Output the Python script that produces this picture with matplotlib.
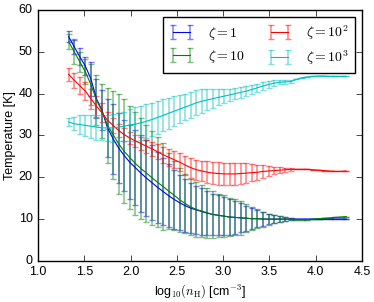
import matplotlib
matplotlib.use('Agg')
import matplotlib.pyplot as plt

plt.style.use('classic')
plt.rcParams['font.family'] = ['Liberation Sans', 'DejaVu Sans']
plt.rcParams['mathtext.fontset'] = 'cm'

### data: log10(nH) bins and mean temperature / spread per zeta
log_nh = [1.33, 1.39, 1.45, 1.51, 1.57, 1.63, 1.69, 1.75, 1.81, 1.87,
          1.93, 1.99, 2.05, 2.11, 2.17, 2.23, 2.29, 2.35, 2.41, 2.47,
          2.53, 2.59, 2.65, 2.71, 2.77, 2.83, 2.89, 2.95, 3.01, 3.07,
          3.13, 3.19, 3.25, 3.31, 3.37, 3.43, 3.49, 3.55, 3.61, 3.67,
          3.73, 3.79, 3.85, 3.91, 3.97, 4.03, 4.09, 4.15, 4.21, 4.27, 4.33]

t_z1 = [53.6, 51.2, 48.8, 46.6, 43.5, 38.8, 36.0, 31.8, 29.2, 27.0,
        25.2, 23.6, 22.3, 21.0, 19.8, 18.7, 17.6, 16.6, 15.6, 14.7,
        13.9, 13.2, 12.6, 12.2, 11.8, 11.4, 11.1, 10.9, 10.7, 10.5,
        10.4, 10.3, 10.2, 10.1, 10.1, 10.0, 10.0, 10.0, 10.0, 10.0,
        10.0, 10.0, 10.0, 10.0, 10.0, 10.0, 10.0, 10.0, 10.0, 10.0, 10.0]
e_z1 = [1.3, 1.7, 2.0, 2.2, 4.0, 4.6, 4.8, 7.0, 8.3, 8.4,
        8.5, 8.8, 9.0, 9.2, 9.1, 8.9, 8.5, 8.0, 7.5, 7.0,
        6.6, 6.3, 6.0, 5.8, 5.6, 5.3, 5.0, 4.8, 4.5, 4.2,
        3.9, 3.5, 3.0, 2.5, 2.0, 1.6, 1.2, 0.9, 0.7, 0.4,
        0.2, 0, 0, 0, 0, 0, 0, 0, 0, 0, 0]

t_z10 = [52.4, 50.0, 47.6, 45.2, 42.2, 38.5, 35.8, 32.4, 30.2, 28.0,
         26.2, 24.7, 23.3, 22.1, 21.0, 19.9, 18.8, 17.8, 16.7, 15.7,
         14.6, 13.7, 12.9, 12.3, 11.9, 11.5, 11.1, 10.9, 10.7, 10.5,
         10.4, 10.3, 10.2, 10.1, 10.1, 10.0, 10.0, 10.0, 10.0, 10.0,
         10.0, 9.9, 9.9, 9.9, 10.0, 10.1, 10.2, 10.3, 10.4, 10.5, 10.6]
e_z10 = [1.8, 3.0, 2.4, 3.0, 5.0, 6.0, 6.5, 9.0, 10.5, 12.0,
         12.4, 12.4, 12.2, 12.0, 11.6, 11.2, 10.8, 10.3, 9.0, 8.3,
         7.6, 7.0, 6.8, 6.5, 6.2, 6.0, 5.6, 5.2, 5.0, 4.6,
         4.3, 4.0, 3.4, 2.8, 2.3, 1.8, 1.3, 1.0, 0.8, 0.5,
         0.3, 0, 0, 0, 0, 0, 0, 0, 0, 0, 0]

t_z100 = [44.6, 43.2, 41.9, 40.6, 38.8, 37.0, 35.4, 33.6, 32.4, 31.2,
          30.2, 29.4, 28.7, 28.1, 27.4, 26.8, 26.1, 25.4, 24.8, 24.2,
          23.6, 22.9, 22.3, 21.8, 21.5, 21.2, 21.0, 20.9, 20.8, 20.8,
          20.8, 20.9, 21.0, 21.1, 21.2, 21.4, 21.5, 21.6, 21.7, 21.8,
          21.9, 21.9, 21.9, 21.9, 21.8, 21.7, 21.6, 21.5, 21.4, 21.4, 21.5]
e_z100 = [1.5, 1.8, 2.0, 2.2, 2.4, 2.5, 2.3, 2.0, 1.8, 1.6,
          1.5, 1.4, 1.4, 1.5, 1.6, 1.7, 1.8, 1.9, 2.0, 2.1,
          2.2, 2.3, 2.4, 2.4, 2.5, 2.6, 2.7, 2.7, 2.7, 2.7,
          2.6, 2.5, 2.3, 2.0, 1.8, 1.5, 1.1, 0.9, 0.7, 0.5,
          0.3, 0, 0, 0, 0, 0, 0, 0, 0, 0, 0]

t_z1000 = [33.2, 32.8, 32.6, 32.4, 32.2, 32.0, 31.8, 31.8, 31.8, 32.0,
           32.2, 32.5, 32.7, 33.0, 33.4, 33.8, 34.3, 34.8, 35.3, 35.8,
           36.3, 36.8, 37.3, 37.8, 38.2, 38.5, 38.8, 39.1, 39.4, 39.7,
           40.0, 40.3, 40.6, 41.0, 41.4, 41.8, 42.2, 42.5, 42.7, 42.8,
           42.9, 43.4, 43.8, 44.0, 44.1, 44.2, 44.2, 44.1, 44.1, 44.1, 44.1]
e_z1000 = [0.9, 1.5, 2.2, 2.5, 2.8, 3.0, 3.0, 3.1, 3.3, 3.4,
           3.5, 3.8, 4.0, 4.1, 4.1, 4.0, 3.9, 3.8, 3.7, 3.6,
           3.3, 3.2, 3.1, 3.0, 2.8, 2.5, 2.2, 1.9, 1.6, 1.5,
           1.4, 1.3, 1.2, 1.1, 1.0, 0.9, 0.8, 0.7, 0.5, 0.4,
           0.3, 0, 0, 0, 0, 0, 0, 0, 0, 0, 0]

series = [
    (t_z1, e_z1, 'b', r'$\zeta = 1$'),
    (t_z10, e_z10, 'g', r'$\zeta = 10$'),
    (t_z100, e_z100, 'r', r'$\zeta = 10^2$'),
    (t_z1000, e_z1000, 'c', r'$\zeta = 10^3$'),
]

fig = plt.figure(figsize=(3.74, 3.02), dpi=100, facecolor='white')
ax = fig.add_axes([0.102, 0.136, 0.866, 0.831])

for t, e, c, lab in series:
    eb = ax.errorbar(log_nh, t, yerr=e, color=c, lw=0.8, capsize=2,
                     elinewidth=1.1, capthick=1, label=lab)
    for cap in eb[1]:
        cap.set_alpha(0.5)
    for bar in eb[2]:
        bar.set_alpha(0.5)

ax.set_xlim(1.0, 4.5)
ax.set_ylim(0, 60)
ax.set_xticks([1.0, 1.5, 2.0, 2.5, 3.0, 3.5, 4.0, 4.5])
ax.set_yticks([0, 10, 20, 30, 40, 50, 60])
ax.tick_params(labelsize=9, length=4)
ax.set_xlabel(r'log$_{10}(n_{\rm H})$ [cm$^{-3}$]', fontsize=9, labelpad=3)
ax.set_ylabel('Temperature [K]', fontsize=9, labelpad=2)

ax.legend(loc='upper right', ncol=2, fontsize=10, numpoints=2,
          handlelength=1.8, columnspacing=1.6, borderpad=0.45,
          labelspacing=0.45, handletextpad=1.0)

fig.savefig('out.png', dpi=100, facecolor='white')
